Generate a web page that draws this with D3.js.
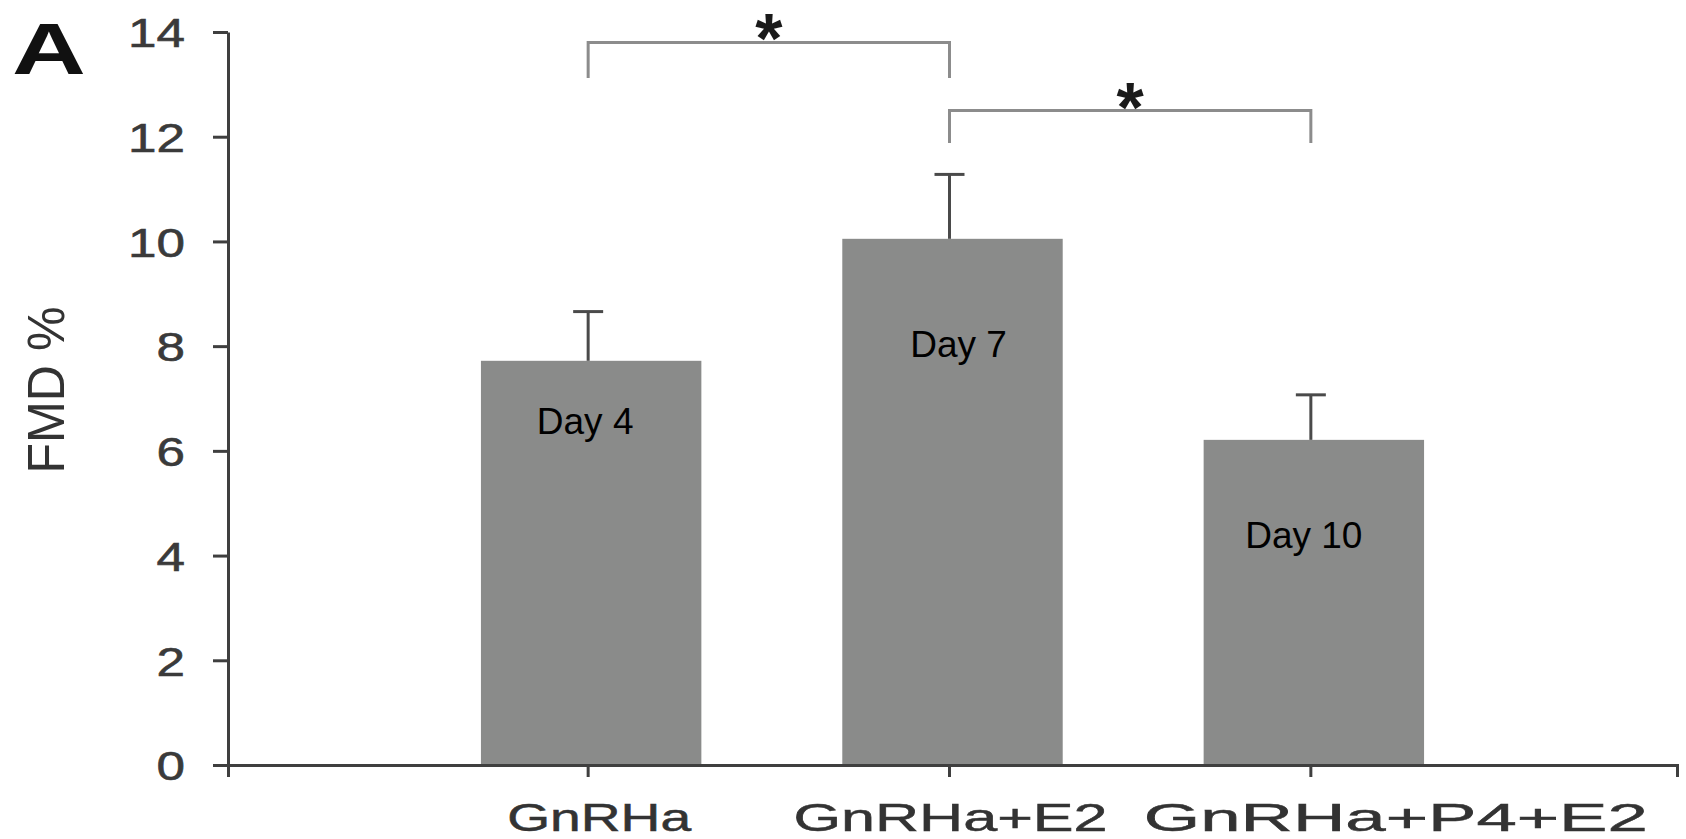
<!DOCTYPE html>
<html>
<head>
<meta charset="utf-8">
<script src="https://cdn.jsdelivr.net/npm/d3@7"></script>
<style>
  html, body { margin: 0; padding: 0; background: #fff; }
  svg { display: block; }
  text { font-family: "Liberation Sans", Arial, sans-serif; }
</style>
</head>
<body>
<svg id="chart" width="1686" height="839"></svg>
<script>
// FMD % by treatment phase (mean + SEM)
const categories = ["GnRHa", "GnRHa+E2", "GnRHa+P4+E2"];
const fmdMean = [7.72, 10.05, 6.21];
const fmdSem = [0.94, 1.23, 0.86];
const dayLabels = ["Day 4", "Day 7", "Day 10"];
const dayLabelAt = [6.32, 7.8, 4.15];
const yTicks = [0, 2, 4, 6, 8, 10, 12, 14];
// significance brackets: [from index, to index, bar level, leg end level]
const brackets = [
  { from: 0, to: 1, level: 13.8, legLevel: 13.12, label: "*" },
  { from: 1, to: 2, level: 12.5, legLevel: 11.88, label: "*" }
];

const svg = d3.select("#chart");
const x = d3.scaleBand().domain(categories).range([228, 1677])
  .paddingInner(0.39).paddingOuter(0.70);
const y = d3.scaleLinear().domain([0, 14]).range([765, 32]);
const cx = c => x(c) + x.bandwidth() / 2;

const axisColor = "#3f3f3f";

// bars
svg.append("g").selectAll("rect").data(categories).join("rect")
  .attr("x", d => x(d))
  .attr("y", (d, i) => y(fmdMean[i]))
  .attr("width", x.bandwidth())
  .attr("height", (d, i) => y(0) - y(fmdMean[i]))
  .attr("fill", "#8a8b8a");

// error bars (upper only)
const err = svg.append("g").attr("stroke", "#4a4a4a").attr("stroke-width", 3);
err.selectAll("line.v").data(categories).join("line").attr("class", "v")
  .attr("x1", d => cx(d) - 3).attr("x2", d => cx(d) - 3)
  .attr("y1", (d, i) => y(fmdMean[i]))
  .attr("y2", (d, i) => y(fmdMean[i] + fmdSem[i]));
err.selectAll("line.c").data(categories).join("line").attr("class", "c")
  .attr("x1", d => cx(d) - 18).attr("x2", d => cx(d) + 12)
  .attr("y1", (d, i) => y(fmdMean[i] + fmdSem[i]))
  .attr("y2", (d, i) => y(fmdMean[i] + fmdSem[i]));

// labels inside bars
const dayOffset = [-6, 6, -10];
svg.append("g").selectAll("text").data(dayLabels).join("text")
  .attr("x", (d, i) => cx(categories[i]) + dayOffset[i])
  .attr("y", (d, i) => y(dayLabelAt[i]))
  .attr("text-anchor", "middle")
  .attr("font-size", 37)
  .attr("fill", "#000")
  .text(d => d);

// y axis
const yAxis = svg.append("g").attr("transform", "translate(228,0)")
  .call(d3.axisLeft(y).tickValues(yTicks).tickSize(15).tickSizeOuter(0).tickPadding(0));
yAxis.select(".domain").attr("stroke", axisColor).attr("stroke-width", 3);
yAxis.selectAll(".tick line").attr("stroke", axisColor).attr("stroke-width", 3);
yAxis.selectAll(".tick text")
  .attr("x", null).attr("dy", "0.36em")
  .attr("transform", "translate(-43,0) scale(1.25,1)")
  .attr("text-anchor", "end")
  .attr("font-size", 41)
  .attr("fill", "#3a3a3a")
  .attr("stroke", "#3a3a3a").attr("stroke-width", 0.6);

// x axis
const xAxis = svg.append("g").attr("transform", `translate(0,${y(0)})`)
  .call(d3.axisBottom(x).tickSize(12).tickSizeOuter(12).tickFormat(""));
xAxis.select(".domain").attr("stroke", axisColor).attr("stroke-width", 3);
xAxis.selectAll(".tick line").attr("stroke", axisColor).attr("stroke-width", 3)
  .attr("transform", "translate(-3,0)");

// category labels, set wide like the original figure lettering
const catOffset = [8, -2, 82];
const catWidth = [184, 314, 504];
svg.append("g").selectAll("text").data(categories).join("text")
  .attr("x", (d, i) => cx(d) + catOffset[i])
  .attr("y", 831)
  .attr("text-anchor", "middle")
  .attr("font-size", 38)
  .attr("fill", "#333")
  .attr("stroke", "#333").attr("stroke-width", 0.5)
  .attr("textLength", (d, i) => catWidth[i])
  .attr("lengthAdjust", "spacingAndGlyphs")
  .text(d => d);

// y-axis title
svg.append("text")
  .attr("transform", "translate(64,390) rotate(-90)")
  .attr("text-anchor", "middle")
  .attr("font-size", 52)
  .attr("fill", "#333")
  .attr("textLength", 167)
  .attr("lengthAdjust", "spacingAndGlyphs")
  .text("FMD %");

// panel letter
svg.append("text")
  .attr("transform", "translate(12,74) scale(1.42,1)")
  .attr("font-size", 72)
  .attr("font-weight", "bold")
  .attr("fill", "#111")
  .text("A");

// significance brackets
const br = svg.append("g");
brackets.forEach(b => {
  const x1 = cx(categories[b.from]) - 3, x2 = cx(categories[b.to]) - 3;
  br.append("path")
    .attr("d", `M${x1},${y(b.legLevel)}V${y(b.level)}H${x2}V${y(b.legLevel)}`)
    .attr("fill", "none").attr("stroke", "#8c8c8c").attr("stroke-width", 3);
  br.append("text")
    .attr("x", (x1 + x2) / 2)
    .attr("y", y(b.level) + 21)
    .attr("text-anchor", "middle")
    .attr("font-size", 70)
    .attr("font-weight", "bold")
    .attr("fill", "#1a1a1a")
    .text(b.label);
});
</script>
</body>
</html>
